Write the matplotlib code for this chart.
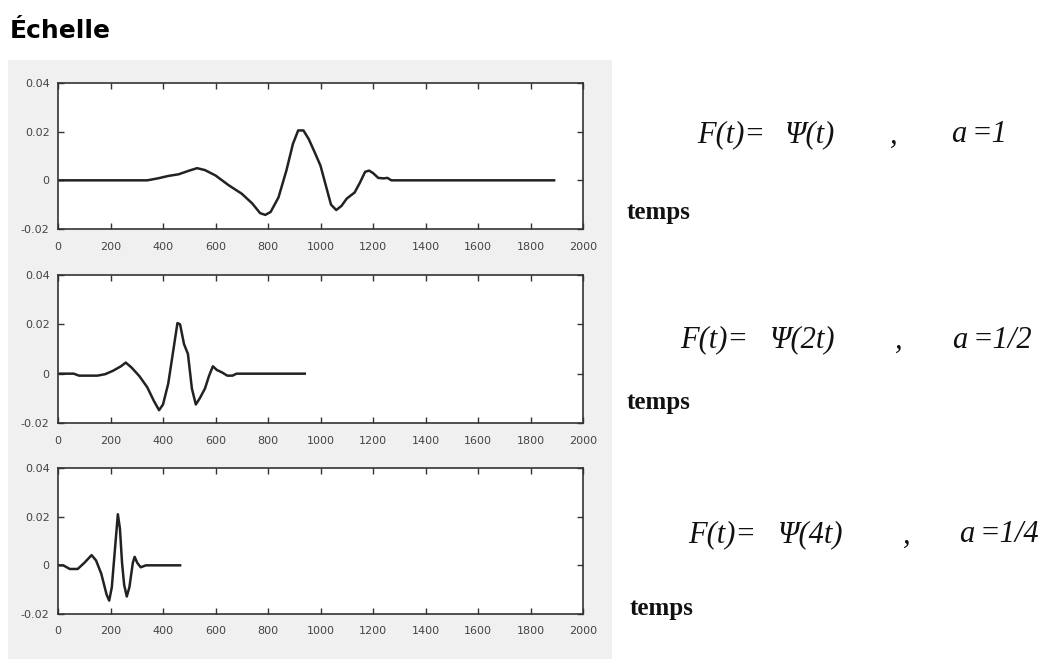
import matplotlib
matplotlib.use('Agg')
import matplotlib.pyplot as plt
from matplotlib.patches import Rectangle

# Psi(t), a = 1
t1 = [0, 340, 380, 420, 460, 500, 530, 560, 600, 650, 700, 740, 770, 790, 810, 840, 870,
      895, 915, 935, 955, 980, 1000, 1020, 1040, 1060, 1080, 1100, 1130, 1150, 1170, 1185,
      1200, 1220, 1240, 1255, 1270, 1890]
y1 = [0, 0, 0.0008, 0.0018, 0.0025, 0.0040, 0.0050, 0.0042, 0.0020, -0.0020, -0.0055,
      -0.0095, -0.0135, -0.0142, -0.0130, -0.0070, 0.0040, 0.0150, 0.0205, 0.0205, 0.0170,
      0.0110, 0.0060, -0.0020, -0.0100, -0.0122, -0.0105, -0.0075, -0.0050, -0.0010, 0.0035,
      0.0040, 0.0030, 0.0010, 0.0008, 0.0010, 0.0, 0]

# Psi(2t), a = 1/2
t2 = [0, 60, 80, 150, 180, 210, 240, 258, 280, 310, 340, 365, 385, 400, 420, 440, 455, 465,
      480, 495, 510, 525, 540, 560, 575, 590, 605, 625, 645, 665, 680, 940]
y2 = [0, 0, -0.0008, -0.0008, -0.0002, 0.0012, 0.0030, 0.0045, 0.0025, -0.0010, -0.0055,
      -0.0110, -0.0148, -0.0125, -0.0040, 0.0100, 0.0205, 0.0200, 0.0120, 0.0080, -0.0060,
      -0.0125, -0.0100, -0.0060, -0.0010, 0.0030, 0.0015, 0.0005, -0.0008, -0.0008, 0, 0]

# Psi(4t), a = 1/4
t3 = [0, 20, 45, 75, 100, 128, 145, 165, 185, 195, 205, 218, 228, 236, 244, 252, 262, 272,
      285, 292, 302, 315, 335, 465]
y3 = [0, 0, -0.0015, -0.0015, 0.0010, 0.0042, 0.0020, -0.0035, -0.0120, -0.0145, -0.0090,
      0.0080, 0.0210, 0.0150, 0.0010, -0.0080, -0.0128, -0.0090, 0.0010, 0.0035, 0.0010,
      -0.0008, 0, 0]

series = [(t1, y1), (t2, y2), (t3, y3)]
x_ticks = list(range(0, 2001, 200))
y_ticks = [-0.02, 0, 0.02, 0.04]
y_labels = ['-0.02', '0', '0.02', '0.04']

psi_txt = ['Ψ(t)', 'Ψ(2t)', 'Ψ(4t)']
a_txt = ['=1', '=1/2', '=1/4']

W, H = 1061, 659
fig = plt.figure(figsize=(W / 100, H / 100), dpi=100)


def px(x, y):
    return x / W, 1 - y / H


# fond gris
fig.add_artist(Rectangle(px(8, 659), 604 / W, 599 / H, transform=fig.transFigure,
                         facecolor='#f0f0f0', edgecolor='none', zorder=-1))

fig.text(*px(10, 31), 'Échelle', fontsize=18, fontweight='bold', va='center',
         family='DejaVu Sans')

axes_pos = [(83, 229), (275, 423), (468, 614)]
for (top, bottom), (t, y) in zip(axes_pos, series):
    l, b = px(58, bottom)
    ax = fig.add_axes([l, b, (583 - 58) / W, (bottom - top) / H])
    ax.plot(t, y, color='#222222', lw=1.8)
    ax.set_xlim(0, 2000)
    ax.set_ylim(-0.02, 0.04)
    ax.set_xticks(x_ticks)
    ax.set_yticks(y_ticks)
    ax.set_yticklabels(y_labels)
    ax.tick_params(direction='in', top=True, right=True, length=4, width=1,
                   labelsize=8, labelcolor='#444444', colors='#333333')
    ax.tick_params(axis='x', pad=9)
    ax.tick_params(axis='y', pad=6)
    for s in ax.spines.values():
        s.set_color('#333333')
        s.set_linewidth(1.2)

# positions (px) des morceaux de chaque formule : F(t)=, Psi, virgule, a, =valeur
rows_y = [135, 340, 535]
pieces_x = [(697, 785, 890, 951, 972),
            (680, 770, 895, 952, 973),
            (688, 778, 903, 959, 980)]
temps_pos = [(627, 213), (627, 403), (630, 608)]
for i in range(3):
    xs = pieces_x[i]
    yy = rows_y[i]
    for s, xx in zip(['F(t)=', psi_txt[i], ',', 'a', a_txt[i]], xs):
        fig.text(*px(xx, yy), s, fontsize=22, style='italic', family='Liberation Serif',
                 va='center', ha='left', color='#111111')
    fig.text(*px(*temps_pos[i]), 'temps', fontsize=18, fontweight='bold',
             family='Liberation Serif', va='center', ha='left', color='#111111')

fig.savefig('out.png', dpi=100)
